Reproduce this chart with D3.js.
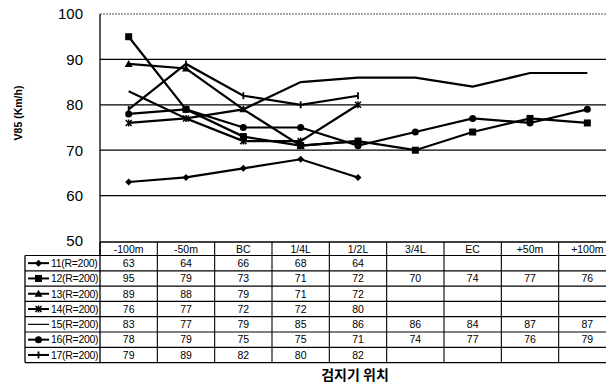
<!DOCTYPE html>
<html><head><meta charset="utf-8">
<script src="https://cdn.jsdelivr.net/npm/d3@7"></script>
<style>
html,body{margin:0;padding:0;background:#fff;overflow:hidden}
svg{display:block;font-family:"Liberation Sans",Arial,sans-serif}
</style></head>
<body>
<svg id="c" width="606" height="385"></svg>
<script>
const categories = ["-100m","-50m","BC","1/4L","1/2L","3/4L","EC","+50m","+100m"];
const seriesNames = ["11(R=200)","12(R=200)","13(R=200)","14(R=200)","15(R=200)","16(R=200)","17(R=200)"];
const s11 = [63,64,66,68,64];
const s12 = [95,79,73,71,72,70,74,77,76];
const s13 = [89,88,79,71,72];
const s14 = [76,77,72,72,80];
const s15 = [83,77,79,85,86,86,84,87,87];
const s16 = [78,79,75,75,71,74,77,76,79];
const s17 = [79,89,82,80,82];
const markers = ["diamond","square","triangle","x","none","circle","plus"];
const yTicks = [50,60,70,80,90,100];
const yTitle = "V85 (Km/h)";
const xTitle = "검지기 위치";

const allSeries = [s11,s12,s13,s14,s15,s16,s17];
const svg = d3.select("#c");
const x = d3.scaleBand().domain(categories).range([100,616]).padding(0);
const y = d3.scaleLinear().domain([50,100]).range([241,14]);
const cx = c => x(c) + x.bandwidth()/2;

// gridlines
svg.append("g").selectAll("line").data(yTicks.filter(t=>t>50)).join("line")
  .attr("x1",100).attr("x2",606).attr("y1",d=>y(d)).attr("y2",d=>y(d))
  .attr("stroke",d=>d===100?"#555":"#000")
  .attr("stroke-width",d=>d===100?1:1.3)
  .attr("stroke-dasharray",d=>d===100?"2,1":null);
// y axis line
svg.append("line").attr("x1",100).attr("x2",100).attr("y1",y(100)).attr("y2",256)
  .attr("stroke","#000").attr("stroke-width",1.3);
// y tick labels
svg.append("g").selectAll("text").data(yTicks).join("text")
  .attr("x",83).attr("y",d=>y(d)).attr("dy","0.36em").attr("text-anchor","end")
  .attr("font-size",15).text(d=>d);
// y title
svg.append("text").attr("transform","translate(22,113) rotate(-90)")
  .attr("text-anchor","middle").attr("font-size",10.5).attr("font-weight","bold").text(yTitle);

function drawMarker(g, type, px, py, s) {
  if (type==="square") g.append("rect").attr("x",px-3.5).attr("y",py-3.5).attr("width",7).attr("height",7).attr("fill","#000");
  else if (type==="diamond") g.append("path").attr("d",`M${px},${py-3.5}L${px+3.5},${py}L${px},${py+3.5}L${px-3.5},${py}Z`).attr("fill","#000");
  else if (type==="triangle") g.append("path").attr("d",`M${px},${py-4}L${px+4},${py+3}L${px-4},${py+3}Z`).attr("fill","#000");
  else if (type==="circle") g.append("circle").attr("cx",px).attr("cy",py).attr("r",3.5).attr("fill","#000");
  else if (type==="x") g.append("path").attr("d",`M${px-3},${py-3}L${px+3},${py+3}M${px+3},${py-3}L${px-3},${py+3}M${px},${py-3.5}L${px},${py+3.5}`).attr("stroke","#000").attr("stroke-width",1.5);
  else if (type==="plus") g.append("path").attr("d",`M${px},${py-3.5}L${px},${py+3.5}`).attr("stroke","#000").attr("stroke-width",1.8);
}

const line = d3.line().x((d,i)=>cx(categories[i])).y(d=>y(d));
allSeries.forEach((s,k)=>{
  const g = svg.append("g");
  g.append("path").attr("d",line(s)).attr("fill","none").attr("stroke","#000").attr("stroke-width",2.2);
  s.forEach((v,i)=>drawMarker(g, markers[k], cx(categories[i]), y(v)));
});

// table
const headTop = 242, headBot = 255.5, rowH = 15.3;
const t = svg.append("g");
// header
t.append("line").attr("x1",100).attr("x2",606).attr("y1",headTop).attr("y2",headTop).attr("stroke","#000").attr("stroke-width",1.3);
t.selectAll("text.h").data(categories).join("text").attr("class","h")
  .attr("x",d=>cx(d)).attr("y",(headTop+headBot)/2).attr("dy","0.36em").attr("text-anchor","middle")
  .attr("font-size",10.5).text(d=>d);
// horizontal row lines
const rowLines = d3.range(seriesNames.length+1).map(i=>headBot+i*rowH);
t.selectAll("line.r").data(rowLines).join("line").attr("class","r")
  .attr("x1",25).attr("x2",606).attr("y1",d=>d).attr("y2",d=>d).attr("stroke","#000").attr("stroke-width",1.2);
// vertical lines
const bottom = headBot + seriesNames.length*rowH;
t.selectAll("line.v").data(categories.map(c=>x(c)).concat([x(categories[8])+x.bandwidth()]).slice(1)).join("line").attr("class","v")
  .attr("x1",d=>d).attr("x2",d=>d).attr("y1",headTop).attr("y2",bottom).attr("stroke","#000").attr("stroke-width",1.1);
t.append("line").attr("x1",100).attr("x2",100).attr("y1",headTop).attr("y2",bottom).attr("stroke","#000").attr("stroke-width",1.3);
t.append("line").attr("x1",25).attr("x2",25).attr("y1",headBot).attr("y2",bottom).attr("stroke","#000").attr("stroke-width",1.3);
// rows
seriesNames.forEach((nm,k)=>{
  const ym = headBot + k*rowH + rowH/2;
  const lg = t.append("g");
  lg.append("line").attr("x1",28).attr("x2",49).attr("y1",ym).attr("y2",ym).attr("stroke","#000").attr("stroke-width",k===4?1.2:2);
  drawMarker(lg, markers[k], 38.5, ym);
  t.append("text").attr("x",51).attr("y",ym).attr("dy","0.36em").attr("font-size",10.5).attr("letter-spacing","-0.3").text(nm);
  allSeries[k].forEach((v,i)=>{
    t.append("text").attr("x",cx(categories[i])).attr("y",ym).attr("dy","0.36em").attr("text-anchor","middle")
      .attr("font-size",10.5).text(v);
  });
});
// x title
svg.append("text").attr("x",355).attr("y",375).attr("dy","0.36em").attr("text-anchor","middle")
  .attr("font-size",14).attr("font-weight","bold").attr("font-family","'Noto Sans CJK KR',sans-serif").text(xTitle);
</script>
</body></html>
